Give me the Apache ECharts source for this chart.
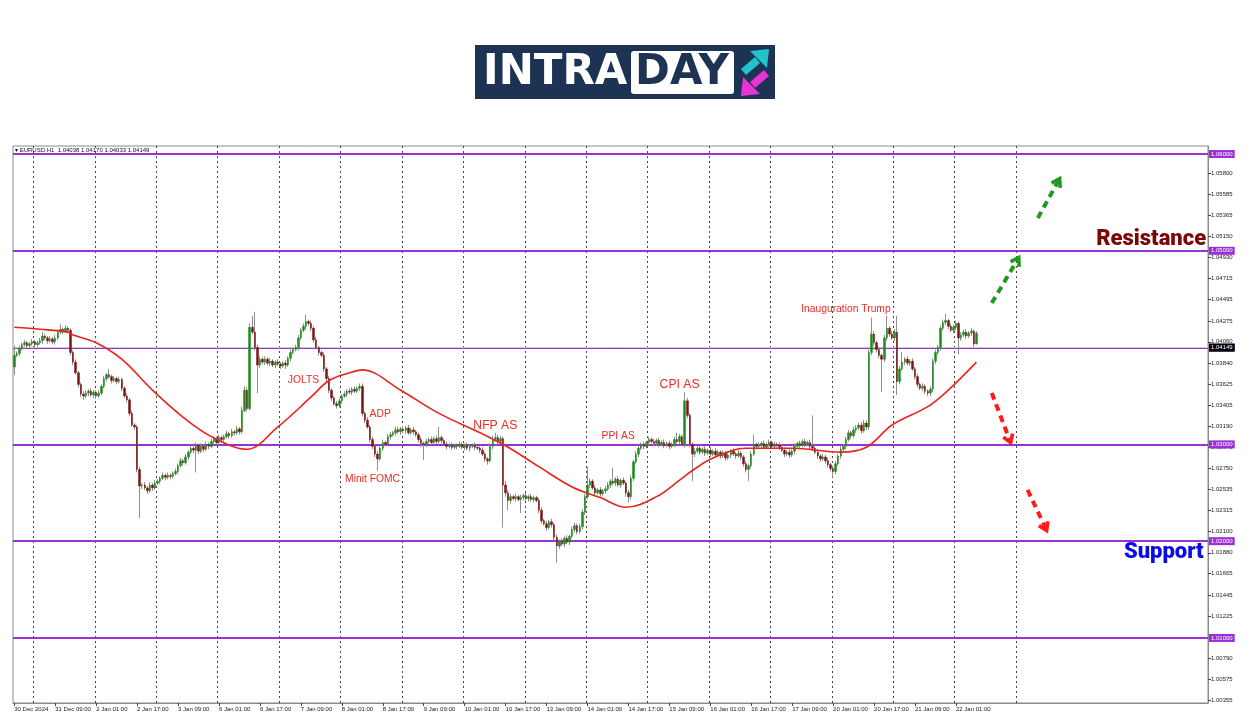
<!DOCTYPE html>
<html><head><meta charset="utf-8">
<script src="https://cdn.jsdelivr.net/npm/echarts@6/dist/echarts.min.js"></script>
<style>html,body{margin:0;padding:0;background:#fff}#c{width:1250px;height:716px}</style>
</head><body><div id="c"></div>
<script>
// ---- data (prices in pips above 1.0000, i.e. 415 = 1.0415) ----
const xLabels = ["30 Dec 2024","31 Dec 09:00","2 Jan 01:00","2 Jan 17:00","3 Jan 09:00","6 Jan 01:00","6 Jan 17:00","7 Jan 09:00","8 Jan 01:00","8 Jan 17:00","9 Jan 09:00","10 Jan 01:00","10 Jan 17:00","13 Jan 09:00","14 Jan 01:00","14 Jan 17:00","15 Jan 09:00","16 Jan 01:00","16 Jan 17:00","17 Jan 09:00","20 Jan 01:00","20 Jan 17:00","21 Jan 09:00","22 Jan 01:00"];
const firstOpen = 380;
const closes = [
392,394,399,403,405,402,404,406,403,405,
407,412,410,407,409,406,410,416,419,417,
420,418,395,385,374,362,352,350,353,355,
351,354,350,353,360,368,372,370,366,368,
365,367,358,350,346,332,320,318,274,257,
258,255,252,258,255,260,262,265,268,266,
268,267,270,272,278,283,281,287,292,296,
294,299,293,298,295,300,298,303,306,302,
307,305,308,311,309,313,312,316,313,335,
356,337,421,416,400,382,388,385,388,384,
386,382,385,383,381,384,382,389,395,398,
400,410,418,422,427,425,420,408,400,395,
392,378,368,356,348,342,340,345,350,352,
355,354,357,355,358,360,332,325,318,305,
298,290,285,296,302,300,308,310,312,315,
313,316,314,317,312,315,313,310,305,301,
300,303,305,302,306,303,307,304,300,298,
299,297,299,298,300,297,299,296,298,299,
297,296,294,290,285,283,298,305,307,303,
306,258,250,242,246,244,246,243,245,247,
244,246,243,245,242,232,221,218,214,220,
217,204,195,200,197,203,199,205,212,216,
210,215,230,246,258,262,255,250,253,249,
252,254,258,262,260,264,258,263,260,250,
246,265,282,290,296,300,298,302,305,303,
301,304,300,302,299,301,298,300,305,303,
308,300,345,330,300,290,293,296,292,295,
291,294,290,293,289,292,288,291,286,289,
293,290,288,291,287,280,274,278,290,300,
298,299,301,297,300,302,298,300,299,297,
294,290,292,289,293,298,301,299,303,300,
302,298,296,292,288,285,287,283,279,275,
272,280,288,295,298,305,312,309,315,317,
320,314,322,318,395,414,405,398,392,388,
410,420,414,410,416,365,378,385,388,384,
386,378,370,362,358,360,355,353,357,386,
395,400,420,426,428,422,418,421,425,410,
413,416,412,415,417,403.8,414.9];
const wickUp = [
10,2,3,2,3,2,2,3,2,2, 3,4,2,2,3,2,3,3,5,2, 3,2,2,2,3,2,2,3,3,2, 3,2,2,3,2,3,2,6,2,3,
2,3,2,2,3,2,3,2,2,3, 2,3,2,3,2,3,2,2,3,2, 3,2,2,3,2,3,2,3,2,3, 2,3,2,3,2,3,2,3,2,2,
3,2,2,3,2,3,2,3,2,4, 4,3,4,12,21,3,3,2,3,2, 3,2,2,3,2,2,3,2,3,2, 3,3,2,3,7,2,3,2,3,2,
2,3,2,3,2,2,3,3,2,3, 2,3,2,3,2,3,3,2,3,2, 3,2,3,4,3,2,3,3,2,3, 3,2,3,2,3,2,3,2,2,3,
2,3,2,3,2,3,11,2,2,3, 2,3,2,2,3,2,2,3,2,2, 3,2,2,3,2,2,3,4,5,3, 3,2,4,3,3,2,3,2,3,2,
3,2,3,2,2,3,3,2,3,2, 3,2,3,2,3,2,3,2,3,3, 2,3,3,3,19,3,2,3,2,3, 2,3,3,2,14,2,3,2,3,2,
3,3,2,3,3,2,3,2,3,2, 3,2,3,2,3,2,3,2,3,7, 3,2,9,3,2,2,3,2,3,2, 3,2,3,2,3,2,2,3,2,3,
2,3,2,3,2,2,3,2,3,10, 2,3,2,3,2,3,2,3,2,3, 2,3,2,3,2,3,2,3,2,3, 2,3,32,2,3,2,3,2,3,2,
2,3,2,3,2,3,3,2,3,3, 2,3,3,3,3,17,3,2,3,2, 3,13,2,3,3,17,3,10,2,3, 2,3,2,3,2,3,2,2,3,3,
3,3,3,3,7,2,3,2,3,2, 3,2,3,2,3,2,2.1];
const wickDn = [
8,2,3,2,2,3,2,2,3,2, 2,3,2,3,2,2,3,2,2,3, 2,3,3,3,2,3,3,4,2,3, 2,3,3,2,2,2,3,2,3,2,
3,2,3,2,3,3,2,3,3,33, 3,2,3,2,3,2,2,3,2,3, 2,3,2,2,3,2,3,2,3,2, 3,23,3,2,3,2,3,2,3,2,
2,3,2,2,3,2,3,2,3,2, 2,3,2,2,3,29,3,2,3,2, 3,2,3,2,3,2,4,2,3,2, 2,3,2,2,3,2,3,3,2,3,
2,3,3,3,3,2,3,2,3,2, 3,2,3,2,2,3,3,3,2,3, 3,3,12,2,3,2,2,3,2,3, 2,3,2,3,2,2,3,2,3,4,
16,3,2,3,2,3,2,3,2,3, 2,3,2,3,2,2,3,2,3,2, 3,2,3,2,3,4,2,3,2,3, 2,44,4,10,3,2,3,2,14,3,
2,3,2,3,2,3,3,2,3,2, 3,3,17,3,2,3,2,3,2,3, 3,2,3,3,2,3,2,3,2,3, 2,3,2,3,2,3,2,3,2,4,
6,3,3,2,3,2,3,2,3,2, 3,2,3,2,3,2,3,2,3,2, 3,2,3,3,3,28,3,2,3,2, 3,2,3,2,3,2,3,2,3,2,
3,2,3,2,3,3,3,12,3,2, 3,2,3,2,2,3,2,3,2,3, 2,3,2,3,2,3,2,3,2,3, 2,3,3,2,3,3,2,3,3,3,
6,3,2,3,2,3,2,3,2,3, 2,3,2,3,3,3,3,3,3,34, 3,3,3,2,3,14,3,2,3,2, 3,2,3,3,2,3,3,3,3,3,
3,2,3,2,3,3,2,3,3,17, 3,2,3,2,3,3,0.5];
// moving average: [bar index, pips]
const maPoints = [[0,421],[10,419],[21,416],[23,413],[32,405],[42,388],[54,356],[66,328],[77,308],[91,295],[103,318],[116,349],[123,366],[131,374],[136,377],[151,356],[166,332],[182,312],[193,297],[205,277],[218,256],[229,245],[239,235],[251,246],[260,263],[265,273],[273,286],[286,296],[304,296],[323,292],[333,297],[343,320],[357,339],[365,356],[376,385]];
const levels = [1.06, 1.05, 1.04, 1.03, 1.02, 1.01];
const bidPrice = 1.04149;
const yTicks = [1.00355,1.00575,1.00790,1.01225,1.01445,1.01665,1.01880,1.02100,1.02315,1.02535,1.02750,1.02970,1.03190,1.03405,1.03625,1.03840,1.04060,1.04275,1.04495,1.04715,1.04930,1.05150,1.05365,1.05585,1.05800];
const headerText = '\u25BE EURUSD.H1  1.04038 1.04170 1.04033 1.04149';
const notes = [['JOLTS',113,1.03665],['ADP',143,1.03314],['Minit FOMC',140,1.02643],['NFP AS',188,1.03190],['PPI AS',236,1.03087],['CPI AS',260,1.03614],['Inauguration Trump',325,1.04399]];
const zoneNotes = [['Resistance',466,1.05122],['Support',465,1.01878]];
const arrows = [[382,1.04461,392,1.04905,'up'],[400,1.05339,408,1.05721,'up'],[382,1.03531,389,1.03045,'down'],[396,1.02529,403,1.02136,'down']];

// ---- build ----
const N = 467;
const cats = Array.from({length: N}, (_, i) => String(i));
const P = v => +(1 + v / 10000).toFixed(5);
const opens = closes.map((c, i) => i === 0 ? firstOpen : closes[i - 1]);
const ohlc = closes.map((c, i) => { const o = opens[i]; return [P(o), P(c), P(Math.min(o, c) - wickDn[i]), P(Math.max(o, c) + wickUp[i])]; });
const bodies = closes.map((c, i) => { const o = opens[i]; return [P(o), P(c), P(Math.min(o, c)), P(Math.max(o, c))]; });

const PURPLE = '#9b2fd8';
const FONT = '"Liberation Sans", Arial, sans-serif';
const labelIdx = i => i % 16 === 0 && i / 16 < xLabels.length;
const chevron = 'path://M5 0 L10 8 L7.6 9.6 L5 5 L2.4 9.6 L0 8 Z';
const bigNotes = {'NFP AS': 12.2, 'CPI AS': 12.2};

const levelLines = levels.map(v => ({
  yAxis: v,
  lineStyle: {color: PURPLE, width: 1.8, type: 'solid'},
  label: {show: true, position: 'end', formatter: v.toFixed(5), backgroundColor: PURPLE, color: '#fff', fontSize: 6, fontFamily: FONT, padding: [1, 2, 1, 2], distance: 1}
}));
levelLines.push({
  yAxis: bidPrice,
  lineStyle: {color: '#cfcfcf', width: 1, type: 'solid'},
  label: {show: true, position: 'end', formatter: bidPrice.toFixed(5), backgroundColor: '#000', color: '#fff', fontSize: 6, fontFamily: FONT, padding: [1, 2, 1, 2], distance: 1}
});

const option = {
  animation: false,
  backgroundColor: '#fff',
  grid: {left: 13, right: 42, top: 146, bottom: 13, show: true, borderColor: '#8a8a8a', borderWidth: 1, containLabel: false},
  xAxis: {
    type: 'category', data: cats, boundaryGap: true,
    axisLine: {show: true, lineStyle: {color: '#8a8a8a'}},
    axisTick: {show: true, alignWithLabel: true, interval: (i) => labelIdx(i), length: 3, lineStyle: {color: '#444'}},
    axisLabel: {interval: (i) => labelIdx(i), formatter: (v, i) => xLabels[i / 16] || '', align: 'left', fontSize: 6, color: '#222', margin: 3, fontFamily: FONT},
    splitLine: {show: true, interval: (i) => i >= 8 && i <= 392 && (i - 8) % 24 === 0, lineStyle: {color: '#444', type: [2, 3], width: 1}}
  },
  yAxis: {
    type: 'value', position: 'right', min: 1.00328, max: 1.06083, scale: true,
    axisLine: {show: true, lineStyle: {color: '#8a8a8a'}},
    axisTick: {show: true, customValues: yTicks, length: 3, lineStyle: {color: '#444'}},
    axisLabel: {customValues: yTicks, formatter: v => v.toFixed(5), fontSize: 6, color: '#222', margin: 3, fontFamily: FONT},
    splitLine: {show: false}
  },
  series: [
    {
      type: 'candlestick', name: 'wicks', data: ohlc, barWidth: 1, z: 3,
      itemStyle: {color: '#8f8f8f', color0: '#8f8f8f', borderColor: '#8f8f8f', borderColor0: '#8f8f8f', borderWidth: 1},
      markLine: {silent: true, symbol: 'none', animation: false, z: 1, data: levelLines}
    },
    {
      type: 'candlestick', name: 'bodies', data: bodies, barWidth: 2, z: 4,
      itemStyle: {color: '#1b8c1b', color0: '#7a1515', borderColor: '#1b8c1b', borderColor0: '#7a1515', borderWidth: 0.5}
    },
    {
      type: 'line', name: 'MA', data: maPoints.map(p => [p[0], P(p[1])]), smooth: 0.35, showSymbol: false, symbol: 'none', z: 5,
      lineStyle: {color: '#e8241f', width: 1.6},
      markLine: {
        silent: true, animation: false, symbol: ['none', chevron], symbolSize: [13, 12], label: {show: false},
        data: arrows.map(a => {
          const col = a[4] === 'up' ? '#1f9a1f' : '#ff1a1a';
          return [{coord: [a[0], a[1]], lineStyle: {color: col, width: 4, type: [7, 5]}, itemStyle: {color: col}}, {coord: [a[2], a[3]]}];
        })
      }
    },
    {
      type: 'scatter', name: 'notes', symbol: 'circle', symbolSize: 1, z: 6, silent: true,
      itemStyle: {color: 'rgba(0,0,0,0)', opacity: 1},
      data: notes.map(n => ({name: n[0], value: [n[1], n[2]], label: {fontSize: bigNotes[n[0]] || 10.3}})),
      label: {show: true, position: 'inside', formatter: '{b}', color: '#ee2a22', fontFamily: FONT}
    },
    {
      type: 'scatter', name: 'zones', symbol: 'circle', symbolSize: 1, z: 6, silent: true,
      itemStyle: {color: 'rgba(0,0,0,0)', opacity: 1},
      data: zoneNotes.map(n => ({name: n[0], value: [n[1], n[2]], label: {color: n[0] === 'Resistance' ? '#7a0606' : '#0b0be8'}})),
      label: {show: true, position: 'left', distance: 0, formatter: '{b}', fontSize: 22, fontWeight: 900, fontFamily: 'Roboto, "Liberation Sans", sans-serif'}
    }
  ],
  graphic: [
    {type: 'rect', shape: {x: 475, y: 45, width: 300, height: 54}, style: {fill: '#1c3354'}, z: 10},
    {type: 'text', style: {x: 483, y: 73, text: 'INTRA', fill: '#ffffff', font: 'bold 42px "DejaVu Sans"', verticalAlign: 'middle'}, z: 11},
    {type: 'rect', shape: {x: 631, y: 51, width: 103, height: 43, r: 3}, style: {fill: '#ffffff'}, z: 11},
    {type: 'text', style: {x: 682, y: 73, text: 'DAY', fill: '#1c3354', font: 'bold 42px "DejaVu Sans"', align: 'center', verticalAlign: 'middle'}, z: 12},
    {type: 'polygon', shape: {points: [[741, 69], [755, 57], [760, 63], [746, 75]]}, style: {fill: '#22c3cc'}, z: 12},
    {type: 'polygon', shape: {points: [[750, 51], [769, 49], [767, 68]]}, style: {fill: '#22c3cc'}, z: 12},
    {type: 'polygon', shape: {points: [[769, 76], [755, 88], [750, 82], [764, 70]]}, style: {fill: '#e535d4'}, z: 12},
    {type: 'polygon', shape: {points: [[760, 94], [741, 96], [743, 77]]}, style: {fill: '#e535d4'}, z: 12},
    {type: 'text', style: {x: 15, y: 150, text: headerText, fill: '#111', font: '6px "Liberation Sans"', verticalAlign: 'middle'}, z: 10}
  ]
};
const chart = echarts.init(document.getElementById('c'));
chart.setOption(option);
</script>
</body></html>
